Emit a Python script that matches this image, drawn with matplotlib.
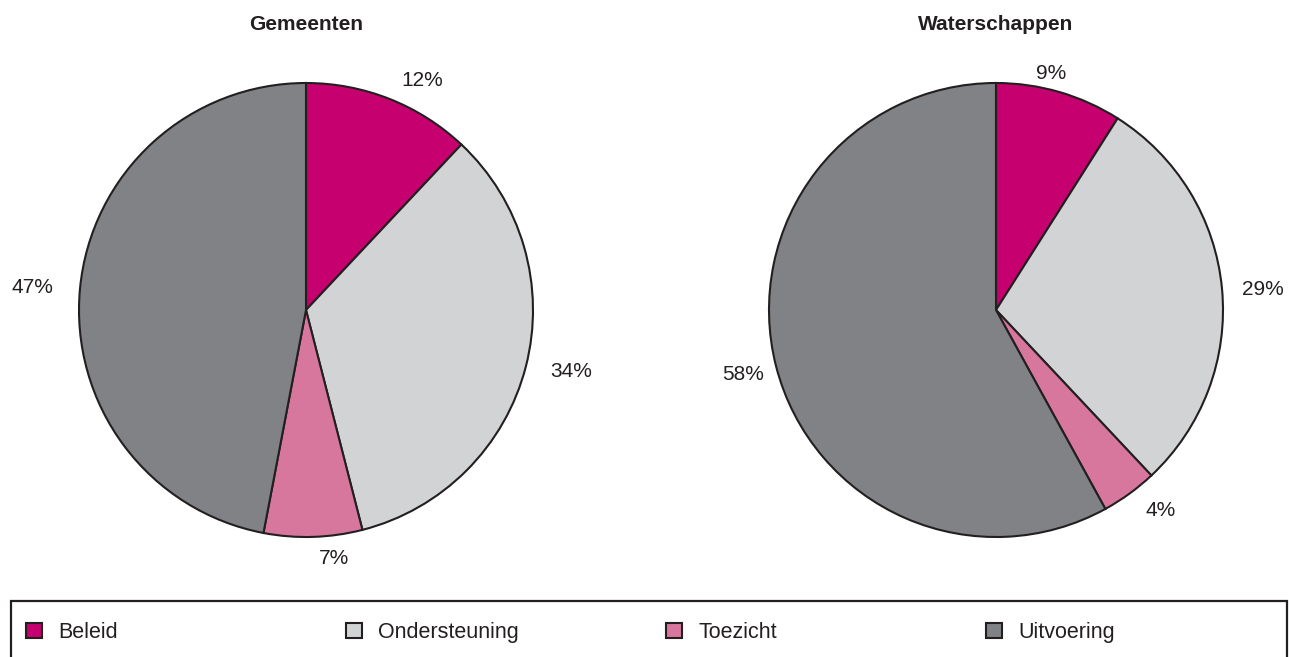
import numpy as np
import matplotlib.pyplot as plt
from matplotlib.patches import Patch, Rectangle

plt.rcParams['font.family'] = ['Liberation Sans', 'DejaVu Sans']

# Daten
categorieen = ["Beleid", "Ondersteuning", "Toezicht", "Uitvoering"]
gemeenten = [12, 34, 7, 47]
waterschappen = [9, 29, 4, 58]

kleuren = ['#C6006E', '#D1D3D4', '#D8779D', '#808285']
rand = '#231F20'

# Label-positie per segment: (afstand als factor van straal, hoekverschuiving in graden)
label_gem = [(1.135, -5.2), (1.20, 1.4), (1.10, 4.7), (1.21, 0.8)]
label_wat = [(1.07, 3), (1.18, -1), (1.145, 3.4), (1.15, 0)]

fig = plt.figure(figsize=(12.89, 6.57), dpi=100)

W, H = 1289, 657
R = 227
half = 1.3 * R


def teken_taart(cx, cy, waarden, labels, titel):
    ax = fig.add_axes([(cx - half) / W, (H - cy - half) / H, 2 * half / W, 2 * half / H])
    wedges, _ = ax.pie(waarden, colors=kleuren, startangle=90, counterclock=False,
                       wedgeprops=dict(edgecolor=rand, linewidth=1.5))
    for w, v, (d, shift) in zip(wedges, waarden, labels):
        hoek = np.deg2rad((w.theta1 + w.theta2) / 2 + shift)
        ax.text(d * np.cos(hoek), d * np.sin(hoek), f'{v}%', ha='center', va='center',
                fontsize=15, color=rand)
    ax.set_xlim(-1.3, 1.3)
    ax.set_ylim(-1.3, 1.3)
    ax.set_aspect('equal')
    ax.axis('off')
    fig.text(cx / W, (H - 25) / H, titel, ha='center', va='center', fontsize=15,
             fontweight='bold', color=rand)


teken_taart(306, 310, gemeenten, label_gem, 'Gemeenten')
teken_taart(996, 310, waterschappen, label_wat, 'Waterschappen')

# Legenda: kader en vier kolommen op vaste afstand
fig.patches.append(Rectangle((11 / W, -0.05), (1287 - 11) / W, (H - 601) / H + 0.05,
                             transform=fig.transFigure, facecolor='none',
                             edgecolor=rand, linewidth=1.6))
kolom_x = [26, 346, 666, 986]
for x, naam, kleur in zip(kolom_x, categorieen, kleuren):
    leg = fig.legend([Patch(facecolor=kleur, edgecolor=rand, linewidth=1.5)], [naam],
                     loc='upper left', bbox_to_anchor=(x / W, (H - 622) / H),
                     frameon=False, fontsize=15.5, handlelength=0.74,
                     handleheight=0.74, handletextpad=0.75, borderpad=0,
                     borderaxespad=0)
    for t in leg.get_texts():
        t.set_color(rand)

plt.savefig('out.png', dpi=100)
